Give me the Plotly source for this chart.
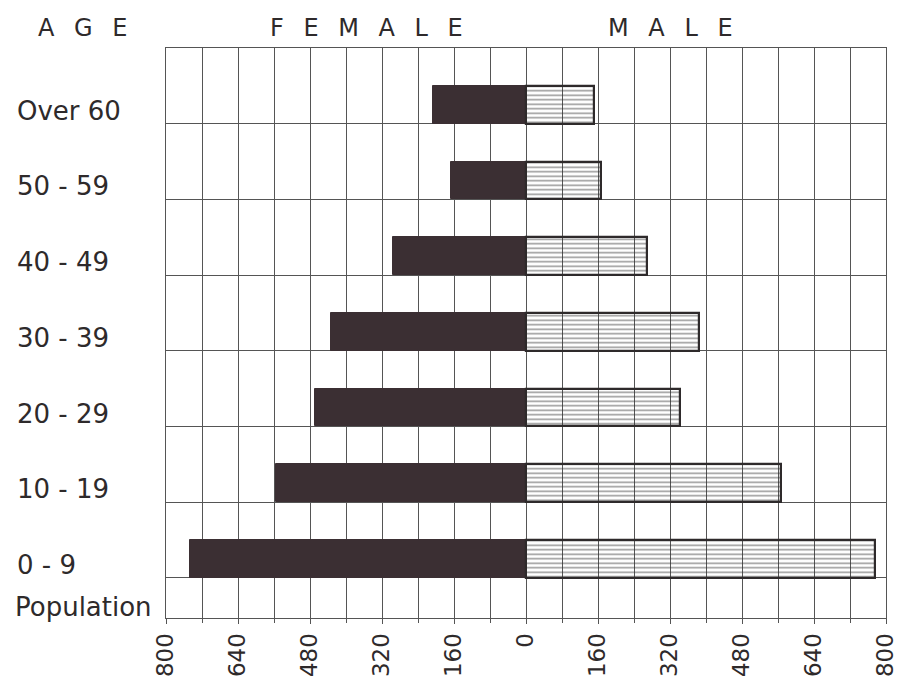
import plotly.graph_objects as go

# ---- data ----
age_groups = ["0 - 9", "10 - 19", "20 - 29", "30 - 39", "40 - 49", "50 - 59", "Over 60"]
female_pop = [746, 555, 470, 433, 295, 167, 207]
male_pop = [775, 567, 342, 385, 269, 167, 150]
tick_values = [-800, -640, -480, -320, -160, 0, 160, 320, 480, 640, 800]
tick_labels = ["800", "640", "480", "320", "160", "0", "160", "320", "480", "640", "800"]

INK = "#2e2a2b"
GRID = "#555555"
FEMALE_FILL = "#3b2f33"
FONT = "DejaVu Sans"

rows = list(range(len(age_groups)))
bar_pos = [r + 0.25 for r in rows]  # bars sit in the lower half of each grid row

fig = go.Figure()
fig.add_trace(go.Bar(
    y=bar_pos, x=[-v for v in female_pop], orientation="h", width=0.5,
    marker=dict(color=FEMALE_FILL, line=dict(color=FEMALE_FILL, width=1)),
    name="Female", showlegend=False,
))
fig.add_trace(go.Bar(
    y=bar_pos, x=male_pop, orientation="h", width=0.5,
    marker=dict(color="rgba(255,255,255,0)",
                line=dict(color=INK, width=2.2),
                pattern=dict(shape="-", size=4.5, solidity=0.35,
                             fgcolor="#333333", bgcolor="rgba(255,255,255,0)",
                             fillmode="overlay")),
    name="Male", showlegend=False,
))

annotations = []
for r, lab in zip(rows, age_groups):
    annotations.append(dict(
        text=lab, xref="paper", x=0, xshift=-151, xanchor="left",
        yref="y", y=r + 0.25, yshift=-6, yanchor="middle", showarrow=False,
        font=dict(family=FONT, size=26, color=INK),
    ))
annotations.append(dict(
    text="Population", xref="paper", x=0, xshift=-153, xanchor="left",
    yref="paper", y=0, yanchor="bottom", yshift=-6, showarrow=False,
    font=dict(family=FONT, size=26, color=INK),
))
sp = " \u2002"
for txt, xp in [(sp.join("AGE"), -0.116), (sp.join("FEMALE"), 0.279), (sp.join("MALE"), 0.70)]:
    annotations.append(dict(
        text=txt, xref="paper", x=xp, xanchor="center",
        yref="paper", y=1, yanchor="bottom", yshift=4, showarrow=False,
        font=dict(family=FONT, size=24, color=INK),
    ))

fig.update_layout(
    width=903, height=694,
    margin=dict(l=166, r=17, t=48, b=76, autoexpand=False),
    paper_bgcolor="white", plot_bgcolor="white",
    barmode="overlay", bargap=0,
    annotations=annotations,
    font=dict(family=FONT, color=INK),
)
fig.update_xaxes(
    range=[-800, 800], tickvals=tick_values, ticktext=tick_labels,
    tickangle=-90, tickfont=dict(family=FONT, size=23, color=INK),
    ticklabeloverflow="allow",
    showgrid=True, gridcolor=GRID, gridwidth=1,
    minor=dict(dtick=80, tick0=0, showgrid=True, gridcolor=GRID, gridwidth=1,
               ticks="outside", ticklen=4, tickcolor=GRID),
    ticks="outside", ticklen=5, tickcolor=GRID,
    showline=True, linecolor=GRID, linewidth=1, mirror=True,
    zeroline=False, automargin=False, fixedrange=True,
)
fig.update_yaxes(
    range=[-0.53, 7], tickvals=rows + [7], showticklabels=False,
    showgrid=True, gridcolor=GRID, gridwidth=1,
    showline=True, linecolor=GRID, linewidth=1, mirror=True,
    zeroline=False, automargin=False, fixedrange=True,
)

fig.write_html(
    "out.html",
    config={"displayModeBar": False},
    post_script="document.body.style.margin='0';document.body.style.overflow='hidden';",
)
